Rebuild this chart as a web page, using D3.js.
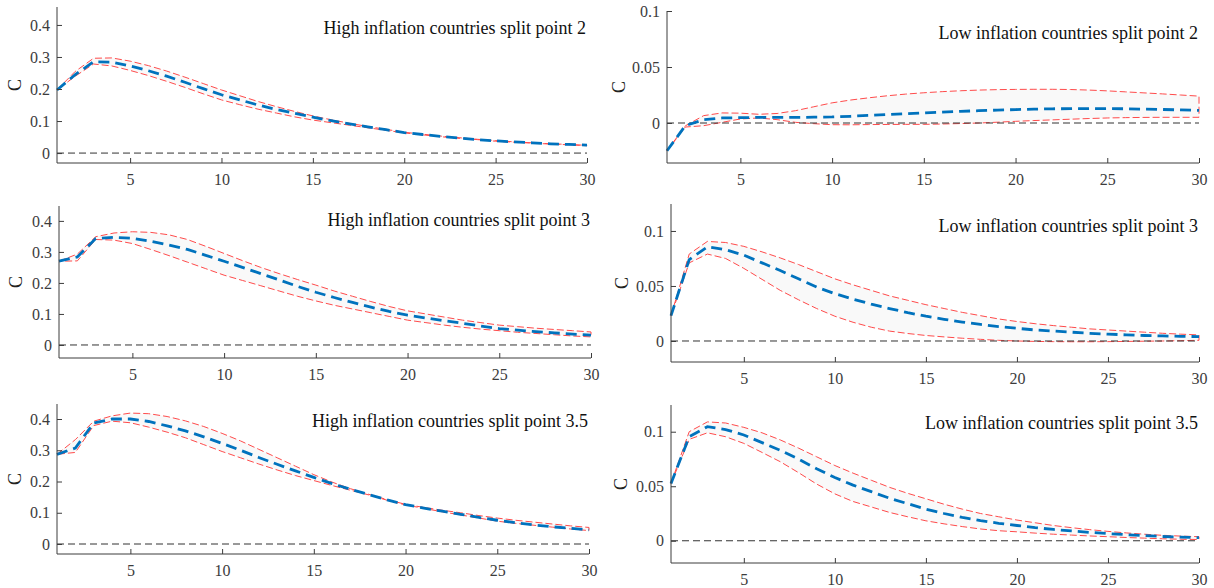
<!DOCTYPE html>
<html>
<head>
<meta charset="utf-8">
<script src="https://cdn.jsdelivr.net/npm/d3@7"></script>
<style>
  html, body { margin: 0; padding: 0; background: #ffffff; }
  svg { display: block; font-family: "Liberation Serif", "Times New Roman", serif; }
</style>
</head>
<body>
<svg id="chart" width="1214" height="588"></svg>
<script>
// Impulse responses of C over a 30-period horizon: mean response with upper/lower bands.
const horizons = d3.range(1, 31);

const xTicks = [5, 10, 15, 20, 25, 30];
const yTicksHigh = [0, 0.1, 0.2, 0.3, 0.4];
const yTickLabelsHigh = ["0", "0.1", "0.2", "0.3", "0.4"];
const yTicksLow = [0, 0.05, 0.1];
const yTickLabelsLow = ["0", "0.05", "0.1"];

const titles = [
  "High inflation countries split point 2",
  "Low inflation countries split point 2",
  "High inflation countries split point 3",
  "Low inflation countries split point 3",
  "High inflation countries split point 3.5",
  "Low inflation countries split point 3.5"
];

// High inflation, split point 2
const hi2Mean  = [0.197,0.245,0.285,0.284,0.272,0.257,0.240,0.221,0.201,0.182,0.166,0.150,0.136,0.124,0.112,0.101,0.091,0.082,0.073,0.064,0.058,0.052,0.047,0.042,0.038,0.035,0.032,0.029,0.027,0.025];
const hi2Upper = [0.197,0.255,0.296,0.297,0.287,0.273,0.256,0.237,0.217,0.197,0.179,0.161,0.145,0.130,0.116,0.104,0.093,0.083,0.074,0.065,0.059,0.053,0.048,0.043,0.039,0.035,0.032,0.029,0.027,0.024];
const hi2Lower = [0.197,0.240,0.278,0.272,0.258,0.242,0.224,0.205,0.185,0.166,0.151,0.137,0.125,0.113,0.103,0.095,0.087,0.079,0.071,0.063,0.057,0.051,0.046,0.042,0.037,0.034,0.031,0.028,0.026,0.023];

// Low inflation, split point 2
const lo2Mean  = [-0.0248,-0.0024,0.0030,0.0045,0.0048,0.0050,0.0050,0.0050,0.0052,0.0054,0.0060,0.0068,0.0075,0.0083,0.0090,0.0097,0.0104,0.0110,0.0115,0.0120,0.0124,0.0127,0.0128,0.0128,0.0128,0.0127,0.0124,0.0121,0.0117,0.0113];
const lo2Upper = [-0.0248,-0.0025,0.0066,0.0090,0.0088,0.0078,0.0085,0.0110,0.0145,0.0180,0.0205,0.0225,0.0243,0.0258,0.0270,0.0280,0.0288,0.0294,0.0298,0.0300,0.0301,0.0301,0.0299,0.0294,0.0287,0.0278,0.0269,0.0260,0.0250,0.0240];
const lo2Lower = [-0.0248,-0.0036,-0.0024,0.0006,0.0036,0.0045,0.0030,0.0006,-0.0006,-0.0015,-0.0016,-0.0014,-0.0013,-0.0012,-0.0012,-0.0009,-0.0005,0.0000,0.0007,0.0015,0.0022,0.0028,0.0034,0.0040,0.0045,0.0048,0.0050,0.0051,0.0051,0.0051];

// High inflation, split point 3
const hi3Mean  = [0.270,0.284,0.343,0.347,0.344,0.334,0.322,0.308,0.289,0.270,0.250,0.230,0.210,0.189,0.170,0.153,0.137,0.122,0.108,0.096,0.087,0.078,0.070,0.061,0.053,0.048,0.043,0.039,0.035,0.032];
const hi3Upper = [0.270,0.293,0.349,0.361,0.365,0.363,0.355,0.340,0.318,0.295,0.272,0.250,0.230,0.211,0.193,0.174,0.157,0.140,0.124,0.110,0.100,0.090,0.080,0.072,0.064,0.059,0.054,0.050,0.046,0.042];
const hi3Lower = [0.270,0.271,0.340,0.338,0.327,0.308,0.288,0.267,0.246,0.225,0.208,0.191,0.174,0.157,0.142,0.128,0.116,0.104,0.092,0.080,0.072,0.064,0.057,0.051,0.046,0.041,0.037,0.033,0.029,0.026];

// Low inflation, split point 3
const lo3Mean  = [0.0230,0.0740,0.0855,0.0830,0.0780,0.0710,0.0640,0.0565,0.0490,0.0430,0.0380,0.0335,0.0295,0.0258,0.0225,0.0197,0.0172,0.0150,0.0130,0.0115,0.0100,0.0090,0.0080,0.0070,0.0062,0.0056,0.0050,0.0046,0.0042,0.0040];
const lo3Upper = [0.0230,0.0790,0.0905,0.0895,0.0860,0.0810,0.0755,0.0695,0.0630,0.0565,0.0510,0.0460,0.0410,0.0370,0.0330,0.0295,0.0260,0.0230,0.0200,0.0177,0.0157,0.0140,0.0125,0.0110,0.0100,0.0090,0.0080,0.0070,0.0062,0.0055];
const lo3Lower = [0.0230,0.0710,0.0790,0.0750,0.0660,0.0560,0.0460,0.0375,0.0295,0.0225,0.0170,0.0125,0.0090,0.0068,0.0050,0.0037,0.0025,0.0015,0.0006,0.0000,-0.0004,-0.0006,-0.0007,-0.0007,-0.0006,-0.0004,-0.0002,0.0000,0.0003,0.0006];

// High inflation, split point 3.5
const hi35Mean  = [0.287,0.307,0.387,0.400,0.400,0.392,0.378,0.362,0.343,0.322,0.300,0.277,0.255,0.234,0.213,0.193,0.175,0.158,0.141,0.126,0.115,0.105,0.095,0.085,0.076,0.068,0.061,0.055,0.050,0.045];
const hi35Upper = [0.287,0.334,0.393,0.410,0.419,0.417,0.408,0.394,0.376,0.354,0.330,0.303,0.276,0.249,0.222,0.198,0.177,0.159,0.142,0.127,0.117,0.108,0.100,0.091,0.083,0.076,0.070,0.064,0.058,0.053];
const hi35Lower = [0.287,0.293,0.379,0.393,0.388,0.374,0.358,0.340,0.318,0.296,0.276,0.256,0.237,0.219,0.203,0.187,0.172,0.157,0.140,0.125,0.114,0.103,0.093,0.083,0.073,0.066,0.060,0.054,0.048,0.043];

// Low inflation, split point 3.5
const lo35Mean  = [0.0526,0.0954,0.1046,0.1020,0.0970,0.0900,0.0830,0.0750,0.0660,0.0580,0.0510,0.0450,0.0390,0.0340,0.0290,0.0250,0.0215,0.0185,0.0160,0.0140,0.0120,0.0104,0.0090,0.0077,0.0066,0.0056,0.0047,0.0039,0.0033,0.0028];
const lo35Upper = [0.0526,0.1000,0.1090,0.1080,0.1040,0.0990,0.0925,0.0850,0.0770,0.0690,0.0620,0.0555,0.0490,0.0435,0.0385,0.0335,0.0290,0.0250,0.0220,0.0190,0.0165,0.0140,0.0120,0.0102,0.0086,0.0072,0.0060,0.0050,0.0043,0.0037];
const lo35Lower = [0.0526,0.0930,0.0990,0.0954,0.0893,0.0810,0.0725,0.0625,0.0520,0.0430,0.0360,0.0310,0.0260,0.0220,0.0183,0.0155,0.0130,0.0108,0.0092,0.0082,0.0070,0.0060,0.0052,0.0044,0.0037,0.0030,0.0024,0.0018,0.0014,0.0011];

// Panel geometry (pixels) and value ranges
const panels = [
  { title: titles[0], mean: hi2Mean,  upper: hi2Upper,  lower: hi2Lower,  ticks: yTicksHigh, labels: yTickLabelsHigh, x0: 57,  x1: 587,  y0: 7,   y1: 163, ymin: -0.031, ymax: 0.456,  titleDy: 27, ylabX: 15 },
  { title: titles[1], mean: lo2Mean,  upper: lo2Upper,  lower: lo2Lower,  ticks: yTicksLow,  labels: yTickLabelsLow,  x0: 667, x1: 1199, y0: 11,  y1: 163, ymin: -0.0357, ymax: 0.1,  titleDy: 28, ylabX: 619 },
  { title: titles[2], mean: hi3Mean,  upper: hi3Upper,  lower: hi3Lower,  ticks: yTicksHigh, labels: yTickLabelsHigh, x0: 59,  x1: 591,  y0: 206, y1: 358, ymin: -0.042, ymax: 0.448,  titleDy: 20, ylabX: 16 },
  { title: titles[3], mean: lo3Mean,  upper: lo3Upper,  lower: lo3Lower,  ticks: yTicksLow,  labels: yTickLabelsLow,  x0: 671, x1: 1199, y0: 204, y1: 362, ymin: -0.0191, ymax: 0.1245, titleDy: 28, ylabX: 622 },
  { title: titles[4], mean: hi35Mean, upper: hi35Upper, lower: hi35Lower, ticks: yTicksHigh, labels: yTickLabelsHigh, x0: 57,  x1: 589,  y0: 404, y1: 554, ymin: -0.032, ymax: 0.448,  titleDy: 23, ylabX: 15 },
  { title: titles[5], mean: lo35Mean, upper: lo35Upper, lower: lo35Lower, ticks: yTicksLow,  labels: yTickLabelsLow,  x0: 671, x1: 1199, y0: 405, y1: 563, ymin: -0.0204, ymax: 0.1245, titleDy: 24, ylabX: 621 }
];

const svg = d3.select("#chart");
const axisColor = "#3c3c3c";

panels.forEach(p => {
  const x = d3.scaleLinear().domain([1, 30]).range([p.x0, p.x1]);
  const y = d3.scaleLinear().domain([p.ymin, p.ymax]).range([p.y1, p.y0]);
  const g = svg.append("g");

  // confidence band: faint fill with red dashed edges
  const bandPts = horizons.map((h, i) => [x(h), y(p.upper[i])])
    .concat(horizons.map((h, i) => [x(h), y(p.lower[i])]).reverse());
  g.append("path")
    .attr("d", d3.line()(bandPts) + "Z")
    .attr("fill", "#f9f9f9")
    .attr("stroke", "#ff4b4b")
    .attr("stroke-width", 1)
    .attr("stroke-dasharray", "7,3");

  // zero reference line
  g.append("line")
    .attr("x1", x(1)).attr("x2", x(30))
    .attr("y1", y(0)).attr("y2", y(0))
    .attr("stroke", "#333")
    .attr("stroke-width", 1)
    .attr("stroke-dasharray", "7,4");

  // mean response
  const line = d3.line().x((d, i) => x(horizons[i])).y(d => y(d));
  g.append("path")
    .datum(p.mean)
    .attr("d", line)
    .attr("fill", "none")
    .attr("stroke", "#0072BD")
    .attr("stroke-width", 2.8)
    .attr("stroke-dasharray", "11,6");

  // axes with inward ticks
  const xAxis = d3.axisBottom(x).tickValues(xTicks).tickSizeInner(-5).tickSizeOuter(0).tickPadding(11);
  const yAxis = d3.axisLeft(y).tickValues(p.ticks).tickFormat((d, i) => p.labels[i]).tickSizeInner(-5).tickSizeOuter(0).tickPadding(7);

  const gx = g.append("g").attr("transform", `translate(0,${p.y1})`).call(xAxis);
  const gy = g.append("g").attr("transform", `translate(${p.x0},0)`).call(yAxis);
  // extend the axis lines across the full plot box
  gy.select(".domain").attr("d", `M0,${p.y0}V${p.y1}`);
  gx.select(".domain").attr("d", `M${p.x0},0H${p.x1}`);
  [gx, gy].forEach(a => {
    a.select(".domain").attr("stroke", axisColor).attr("stroke-width", 1);
    a.selectAll(".tick line").attr("stroke", axisColor);
    a.selectAll(".tick text")
      .attr("fill", axisColor)
      .style("font-family", "'Liberation Serif', 'Times New Roman', serif")
      .style("font-size", "16px");
  });

  // panel title
  g.append("text")
    .attr("x", p.x1 - 1)
    .attr("y", p.y0 + p.titleDy)
    .attr("text-anchor", "end")
    .attr("fill", "#111")
    .style("font-size", "18px")
    .text(p.title);

  // y-axis label
  g.append("text")
    .attr("transform", `translate(${p.ylabX},${(p.y0 + p.y1) / 2}) rotate(-90)`)
    .attr("text-anchor", "middle")
    .attr("dominant-baseline", "central")
    .attr("fill", "#222")
    .style("font-size", "18px")
    .text("C");
});
</script>
</body>
</html>
